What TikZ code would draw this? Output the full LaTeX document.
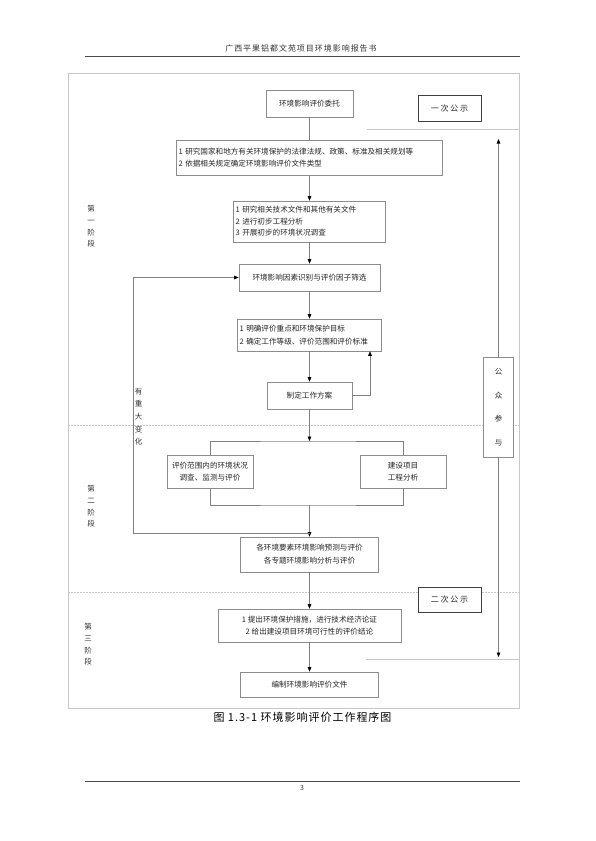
\documentclass[tikz,border=0pt]{standalone}
\usepackage{fontspec}
\setmainfont{Noto Sans CJK SC}
\usetikzlibrary{arrows.meta}
\newcommand{\fsz}[2]{\fontsize{#1}{#2}\selectfont}
\begin{document}
\begin{tikzpicture}[x=1pt,y=-1pt,
  box/.style={draw=black!45, line width=0.6pt, fill=white, text=black!85,
    font=\fsz{7.6}{12}, align=center, inner sep=1.5pt},
  lbox/.style={box, align=left, inner xsep=2pt},
  pubbox/.style={draw=black!75, line width=1pt, fill=white, text=black!85,
    font=\fsz{8}{10}\addfontfeature{LetterSpace=22}, inner sep=0pt,
    minimum width=63pt, minimum height=25pt},
  ln/.style={draw=black!50, line width=0.6pt},
  arr/.style={ln, -{Triangle[width=3.6pt,length=4.5pt,color=black]}},
  frm/.style={draw=black!22, line width=0.8pt},
  sep/.style={draw=black!22, line width=0.6pt, dash pattern=on 2pt off 1pt},
  lab/.style={text=black!80, font=\fsz{7.5}{11.7}, align=center, inner sep=0pt}
]
\useasboundingbox (0,0) rectangle (595,841);

% header and footer
\node[text=black!80, font=\fsz{8}{10}\addfontfeature{LetterSpace=12}, inner sep=0pt] (hdr) at (301,48) {广西平果铝都文苑项目环境影响报告书};
\coordinate (hrl) at (85,56); \coordinate (hrr) at (520,56);
\draw[draw=black!70, line width=0.7pt] (hrl) -- (hrr);
\coordinate (frl) at (85,781); \coordinate (frr) at (520,781);
\draw[draw=black!70, line width=0.7pt] (frl) -- (frr);
\node[text=black!80, font=\fsz{7}{9}, inner sep=0pt] (pg) at (302,788) {3};

% frame and phase separators
\draw[frm] (68,73) rectangle (519,708);
\coordinate (s1l) at (68,425); \coordinate (s1r) at (519,425);
\coordinate (s2l) at (68,592); \coordinate (s2r) at (519,592);
\draw[sep] (s1l) -- (s1r);
\draw[sep] (s2l) -- (s2r);

% public participation lines (drawn first)
\coordinate (h1a) at (367,129); \coordinate (h1b) at (519,129);
\coordinate (h2a) at (366,659); \coordinate (h2b) at (519,659);
\draw[frm, line width=0.7pt] (h1a) -- (h1b);
\draw[frm, line width=0.7pt] (h2a) -- (h2b);

% main boxes
\node[box, minimum width=87pt, minimum height=27pt] (b1) at (309.5,103.5) {环境影响评价委托};
\node[lbox, text width=262pt, minimum height=35pt] (b2) at (309.5,157.5)
  {1 研究国家和地方有关环境保护的法律法规、政策、标准及相关规划等\\2 依据相关规定确定环境影响评价文件类型};
\node[lbox, text width=148pt, minimum height=41pt, font=\fsz{7.6}{11.5}] (b3) at (309.5,221.5)
  {1 研究相关技术文件和其他有关文件\\2 进行初步工程分析\\3 开展初步的环境状况调查};
\node[box, minimum width=141pt, minimum height=27pt] (b4) at (309.5,277.5) {环境影响因素识别与评价因子筛选};
\node[lbox, text width=140pt, minimum height=32pt, font=\fsz{7.6}{13}] (b5) at (309.5,335)
  {1 明确评价重点和环境保护目标\\2 确定工作等级、评价范围和评价标准};
\node[box, minimum width=85pt, minimum height=27pt] (b6) at (309.5,395.5) {制定工作方案};
\node[box, minimum width=86pt, minimum height=33pt] (b7a) at (210,471.5) {评价范围内的环境状况\\调查、监测与评价};
\node[box, minimum width=86pt, minimum height=33pt] (b7b) at (403,471.5) {建设项目\\工程分析};
\node[box, minimum width=138pt, minimum height=35pt, font=\fsz{7.6}{13}] (b8) at (309.5,554.5)
  {各环境要素环境影响预测与评价\\各专题环境影响分析与评价};
\node[box, minimum width=183pt, minimum height=33pt, font=\fsz{7.6}{12.5}] (b9) at (309.5,625.5)
  {1 提出环境保护措施，进行技术经济论证\\2 给出建设项目环境可行性的评价结论};
\node[box, minimum width=138pt, minimum height=25pt] (b10) at (309.5,684.5) {编制环境影响评价文件};

% public notices
\node[pubbox, minimum height=26pt] (pub1) at (449.5,108) {一次公示};
\node[pubbox] (pub2) at (449.5,599.5) {二次公示};

% public participation box and arrows
\node[box, minimum width=30pt, minimum height=100pt, font=\fsz{7.5}{23.5}] (pp) at (498.5,407) {公\\众\\参\\与};
\coordinate (ptop) at (498.5,139);
\coordinate (pbot) at (498.5,657);
\draw[arr] (pp.north) -- (ptop);
\draw[arr] (pp.south) -- (pbot);

% main flow connectors
\draw[ln] (b1) -- (b2);
\draw[arr] (b2) -- (b3);
\draw[arr] (b3) -- (b4);
\draw[arr] (b4) -- (b5);
\draw[arr] (b5) -- (b6);
\coordinate (fbx) at (370,0);
\draw[arr] (b6.east) -| (b5.south -| fbx);

\coordinate (spt) at (309.5,441);
\coordinate (spb) at (309.5,505);
\draw[arr] (b6) -- (spt);
\draw[ln] (b7a.north) |- (spt) -| (b7b.north);
\draw[ln] (b7a.south) |- (spb) -| (b7b.south);
\draw[arr] (spb) -- (b8);

% feedback loop for major changes
\coordinate (lj) at (309.5,533);
\coordinate (loopL) at (133,533);
\draw[arr] (lj) -- (loopL) |- (b4.west);

\draw[arr] (b8) -- (b9);
\draw[arr] (b9) -- (b10);

% side labels
\node[lab] (ph1) at (91,226.5) {第\\一\\阶\\段};
\node[lab] (ph2) at (91,506.5) {第\\二\\阶\\段};
\node[lab] (ph3) at (88,644.5) {第\\三\\阶\\段};
\node[lab, font=\fsz{7.5}{12.7}] (chg) at (138.5,416.6) {有\\重\\大\\变\\化};

% caption
\node[text=black, font=\fsz{11}{13}\addfontfeature{LetterSpace=9}, inner sep=0pt] (cap) at (302.5,717) {图 1.3-1 环境影响评价工作程序图};
\end{tikzpicture}
\end{document}
